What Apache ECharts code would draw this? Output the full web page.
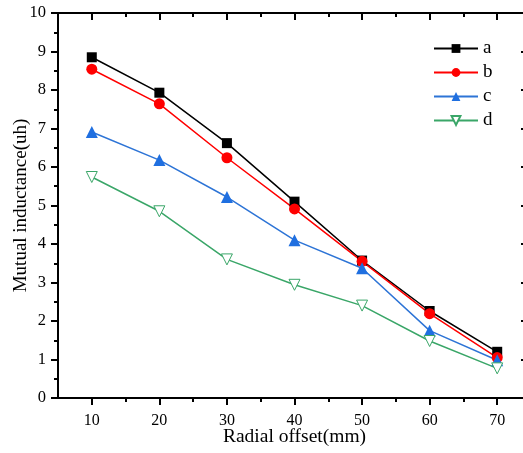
<!DOCTYPE html>
<html><head><meta charset="utf-8">
<script src="https://cdn.jsdelivr.net/npm/echarts@6/dist/echarts.min.js"></script>
<style>html,body{margin:0;padding:0;background:#fff}#c{width:523px;height:453px}</style>
</head><body><div id="c"></div>
<script>
const xValues = [10, 20, 30, 40, 50, 60, 70];
const xMinorTicks = [15, 25, 35, 45, 55, 65];
const seriesA = [8.85, 7.93, 6.62, 5.10, 3.57, 2.26, 1.20];
const seriesB = [8.54, 7.64, 6.24, 4.91, 3.55, 2.19, 1.05];
const seriesC = [6.91, 6.18, 5.22, 4.10, 3.37, 1.75, 0.98];
const seriesD = [5.74, 4.85, 3.60, 2.94, 2.40, 1.48, 0.77];
const names = ['a', 'b', 'c', 'd'];
const font = '"Liberation Serif", "DejaVu Serif", serif';

const pair = arr => xValues.map((x, i) => [x, arr[i]]);
const chart = echarts.init(document.getElementById('c'));
const black = {color: '#000', width: 2};
const axisLine = {show: true, lineStyle: black};
function xAx(pos, inside, ticks, len, withLine, label) {
  const o = {
    type: 'value', min: 5, max: 75, position: pos,
    axisLine: withLine ? axisLine : {show: false},
    axisTick: {show: true, inside: inside, length: len, customValues: ticks, lineStyle: black},
    splitLine: {show: false},
    axisLabel: {show: false}
  };
  if (label) {
    o.axisLabel = {show: true, customValues: xValues, fontFamily: font, fontSize: 16, color: '#000', margin: 15};
    o.name = 'Radial offset(mm)'; o.nameLocation = 'middle'; o.nameGap = 29;
    o.nameMoveOverlap = false;
    o.nameTextStyle = {fontFamily: font, fontSize: 19.5, color: '#000'};
  }
  return o;
}
chart.setOption({
  animation: false,
  grid: {left: 58, top: 13, height: 385, width: 473, containLabel: false, outerBoundsMode: 'none'},
  legend: {
    left: 428, top: 34, orient: 'vertical', itemWidth: 44, itemHeight: 11, itemGap: 5,
    textStyle: {fontFamily: font, fontSize: 19, color: '#000'},
    data: names
  },
  xAxis: [
    xAx('bottom', false, xValues, 7, true, true),
    xAx('bottom', false, xMinorTicks, 4, false, false),
    xAx('top', true, xValues, 7, true, false),
    xAx('top', true, xMinorTicks, 4, false, false)
  ],
  yAxis: [{
    type: 'value', min: 0, max: 10, interval: 1, position: 'left',
    axisLine: axisLine,
    axisTick: {show: true, inside: false, length: 7, lineStyle: black},
    minorTick: {show: true, splitNumber: 2, length: 4, lineStyle: black},
    splitLine: {show: false},
    axisLabel: {fontFamily: font, fontSize: 16.5, color: '#000', margin: 12},
    name: 'Mutual inductance(uh)', nameLocation: 'middle', nameGap: 27, nameMoveOverlap: false,
    nameTextStyle: {fontFamily: font, fontSize: 19, color: '#000'}
  }, {
    type: 'value', min: 0, max: 10, interval: 1, position: 'right',
    axisLine: axisLine,
    axisTick: {show: true, inside: true, length: 10, lineStyle: black},
    minorTick: {show: true, splitNumber: 2, length: 6, lineStyle: black},
    splitLine: {show: false}, axisLabel: {show: false}
  }],
  series: [
    {name: 'a', type: 'line', data: pair(seriesA), symbol: 'rect', symbolSize: 10,
     itemStyle: {color: '#000'}, lineStyle: {color: '#000', width: 1.5}},
    {name: 'b', type: 'line', data: pair(seriesB), symbol: 'circle', symbolSize: 11,
     itemStyle: {color: '#ff0000'}, lineStyle: {color: '#ff0000', width: 1.5}},
    {name: 'c', type: 'line', data: pair(seriesC), symbol: 'triangle', symbolSize: 12,
     itemStyle: {color: '#1f6fe0'}, lineStyle: {color: '#2d74d6', width: 1.5}},
    {name: 'd', type: 'line', data: pair(seriesD), symbol: 'triangle', symbolRotate: 180, symbolSize: 11,
     itemStyle: {color: '#fff', borderColor: '#3aa668', borderWidth: 1}, lineStyle: {color: '#3aa668', width: 1.5}}
  ]
});
</script></body></html>
